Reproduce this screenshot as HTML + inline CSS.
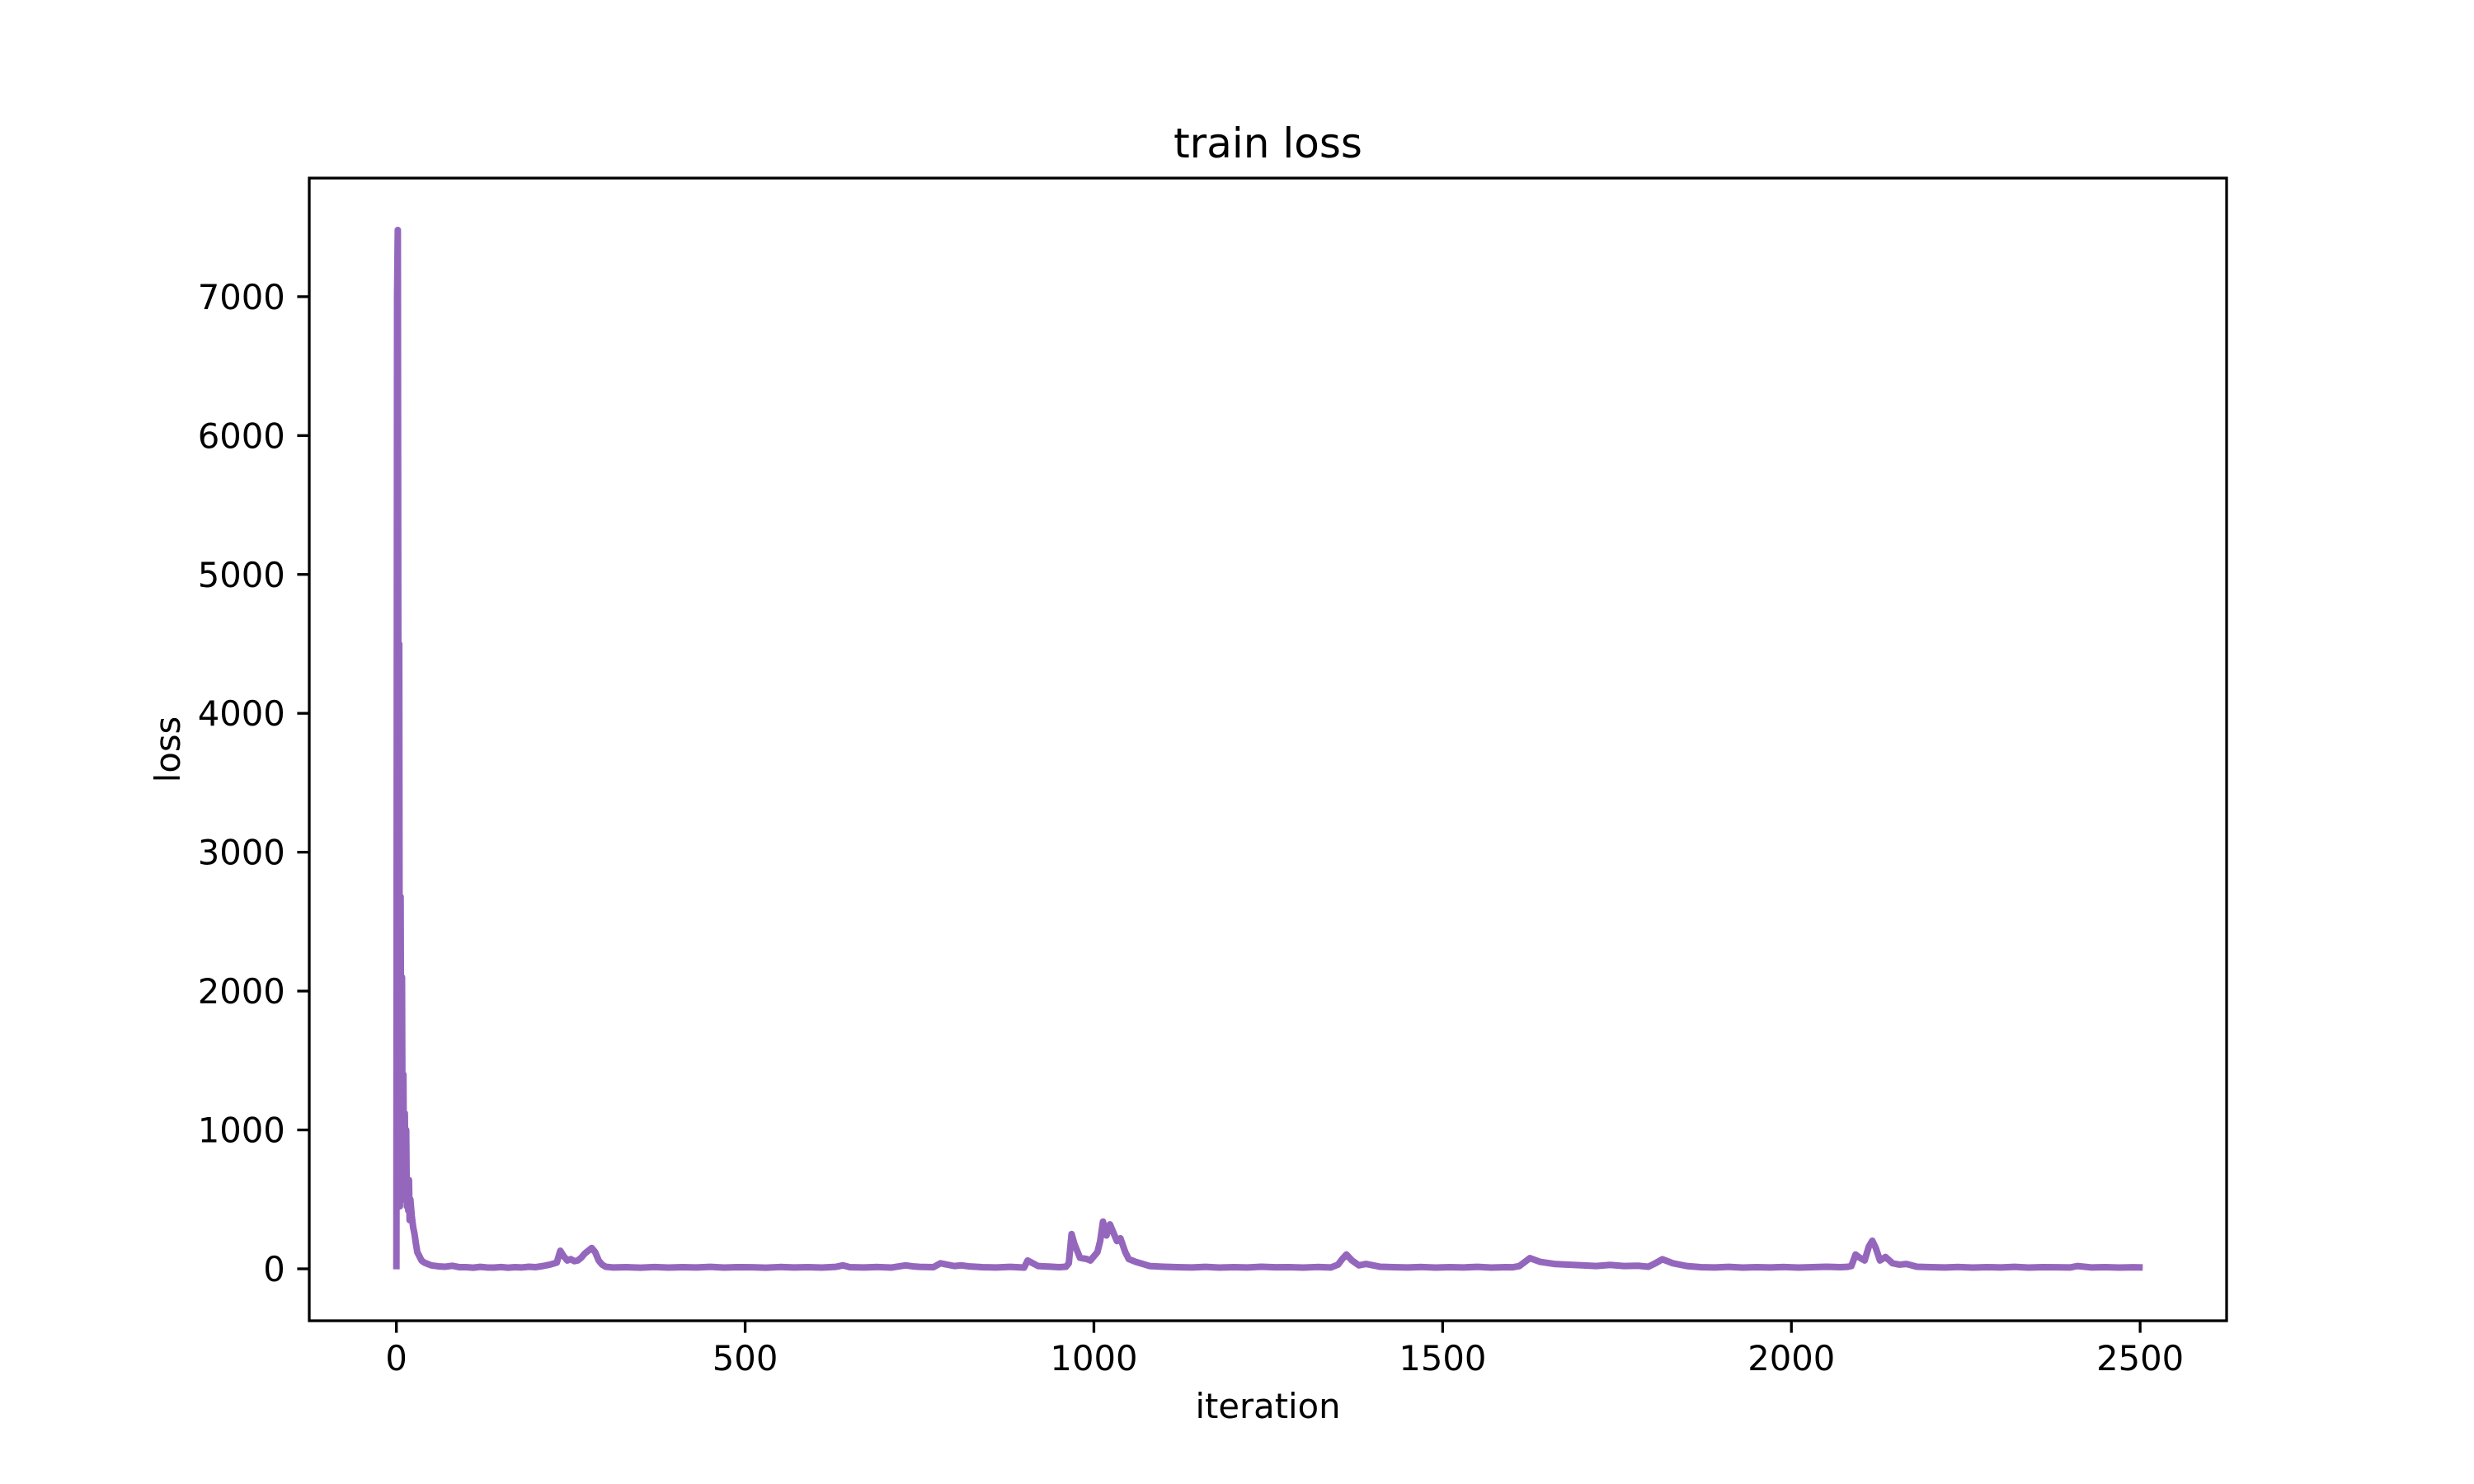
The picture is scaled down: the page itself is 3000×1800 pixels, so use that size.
<!DOCTYPE html>
<html><head><meta charset="utf-8"><style>
html,body{margin:0;padding:0;background:#fff;}
svg{display:block;font-family:"DejaVu Sans","Liberation Sans",sans-serif;}
</style></head><body>
<svg id="chart" width="3000" height="1800" viewBox="0 0 3000 1800" xmlns="http://www.w3.org/2000/svg">
<rect x="0" y="0" width="3000" height="1800" fill="#fff"/>
<text x="1537.5" y="191" font-size="50" text-anchor="middle" fill="#000">train loss</text>
<g id="plot"></g>
<g id="axes"></g>
<text x="1537.5" y="1720" font-size="41.7" text-anchor="middle" fill="#000">iteration</text>
<text transform="translate(218,909) rotate(-90)" font-size="41.7" text-anchor="middle" fill="#000">loss</text>
</svg>
<script>
const iterations = [0,1,2,3,4,5,6,7,8,9,10,11,12,13,14,15,16,17,18,19,20,22,24,26,28,30,33,36,40,45,50,60,70,80,90,100,110,120,130,140,150,160,170,180,190,200,210,220,230,235,240,245,250,255,260,265,270,275,280,285,290,295,300,310,330,350,370,390,410,430,450,470,490,510,530,550,570,590,610,630,640,650,670,690,710,730,740,750,770,780,800,810,820,840,860,880,900,905,920,940,950,960,964,968,972,980,990,995,1000,1005,1009,1013,1018,1023,1028,1033,1038,1045,1050,1060,1070,1080,1100,1120,1140,1160,1180,1200,1220,1240,1260,1280,1300,1320,1340,1350,1356,1362,1370,1380,1390,1410,1430,1450,1470,1490,1510,1530,1550,1570,1590,1600,1610,1618,1625,1640,1660,1680,1700,1720,1740,1760,1780,1795,1805,1815,1830,1850,1870,1890,1910,1930,1950,1970,1990,2010,2030,2050,2070,2080,2086,2092,2098,2105,2111,2116,2121,2127,2135,2145,2155,2165,2180,2200,2220,2240,2260,2280,2300,2320,2340,2360,2380,2400,2410,2430,2450,2470,2490,2499];
const losses = [20,7000,7480,3300,4500,450,2680,900,2100,600,1400,500,1120,700,1000,450,620,420,640,350,500,380,300,250,180,120,90,60,45,35,25,18,15,22,12,12,8,14,10,9,13,8,12,10,15,12,20,30,45,130,90,60,70,55,60,80,110,130,150,120,60,30,15,10,12,8,13,9,12,10,14,9,12,11,8,13,10,12,9,14,25,12,10,13,9,25,18,14,12,40,20,25,18,12,10,14,9,60,20,15,12,15,40,250,180,80,70,60,90,120,200,340,240,320,260,200,220,120,70,50,35,20,15,12,10,14,9,12,10,15,11,12,9,13,10,30,70,103,60,25,35,15,12,10,13,9,12,10,14,9,12,11,20,50,77,50,35,30,25,20,28,20,22,15,40,69,40,20,12,10,14,9,12,10,13,9,12,15,12,14,20,103,80,60,160,202,150,60,85,40,30,35,15,12,10,13,9,12,10,14,9,12,11,10,20,10,12,9,11,10,10];
const xTicks = [0,500,1000,1500,2000,2500];
const yTicks = [0,1000,2000,3000,4000,5000,6000,7000];
const xTickLabels = ["0","500","1000","1500","2000","2500"];
const yTickLabels = ["0","1000","2000","3000","4000","5000","6000","7000"];

const NS = "http://www.w3.org/2000/svg";
const L = 375, R = 2700, T = 216, B = 1602;
const xMin = -124.95, xMax = 2623.95;
const yMin = -374, yMax = 7854;
function xs(v){ return L + (v - xMin) / (xMax - xMin) * (R - L); }
function ys(v){ return B - (v - yMin) / (yMax - yMin) * (B - T); }

const plot = document.getElementById('plot');
let d = '';
for (let i = 0; i < iterations.length; i++) {
  d += (i ? 'L' : 'M') + xs(iterations[i]).toFixed(2) + ',' + ys(losses[i]).toFixed(2);
}
const line = document.createElementNS(NS, 'path');
line.setAttribute('d', d);
line.setAttribute('fill', 'none');
line.setAttribute('stroke', '#9467bd');
line.setAttribute('stroke-width', '8');
line.setAttribute('stroke-linejoin', 'round');
line.setAttribute('stroke-linecap', 'square');


plot.appendChild(line);

const axes = document.getElementById('axes');
const frame = document.createElementNS(NS, 'rect');
frame.setAttribute('x', L); frame.setAttribute('y', T);
frame.setAttribute('width', R - L); frame.setAttribute('height', B - T);
frame.setAttribute('fill', 'none'); frame.setAttribute('stroke', '#000');
frame.setAttribute('stroke-width', '3.3');


axes.appendChild(frame);

xTicks.forEach((v, i) => {
  const x = xs(v);
  const t = document.createElementNS(NS, 'line');
  t.setAttribute('x1', x); t.setAttribute('x2', x);
  t.setAttribute('y1', B); t.setAttribute('y2', B + 14.6);
  t.setAttribute('stroke', '#000'); t.setAttribute('stroke-width', '3.3');
  
  
  axes.appendChild(t);
  const lb = document.createElementNS(NS, 'text');
  lb.setAttribute('x', x); lb.setAttribute('y', B + 14.6 + 14.6 + 31);
  lb.setAttribute('font-size', '41.7'); lb.setAttribute('text-anchor', 'middle');
  lb.textContent = xTickLabels[i];
  
  
  axes.appendChild(lb);
});
yTicks.forEach((v, i) => {
  const y = ys(v);
  const t = document.createElementNS(NS, 'line');
  t.setAttribute('x1', L - 14.6); t.setAttribute('x2', L);
  t.setAttribute('y1', y); t.setAttribute('y2', y);
  t.setAttribute('stroke', '#000'); t.setAttribute('stroke-width', '3.3');
  
  
  axes.appendChild(t);
  const lb = document.createElementNS(NS, 'text');
  lb.setAttribute('x', L - 14.6 - 14.6); lb.setAttribute('y', y + 15);
  lb.setAttribute('font-size', '41.7'); lb.setAttribute('text-anchor', 'end');
  lb.textContent = yTickLabels[i];
  
  
  axes.appendChild(lb);
});
</script>
</body></html>
